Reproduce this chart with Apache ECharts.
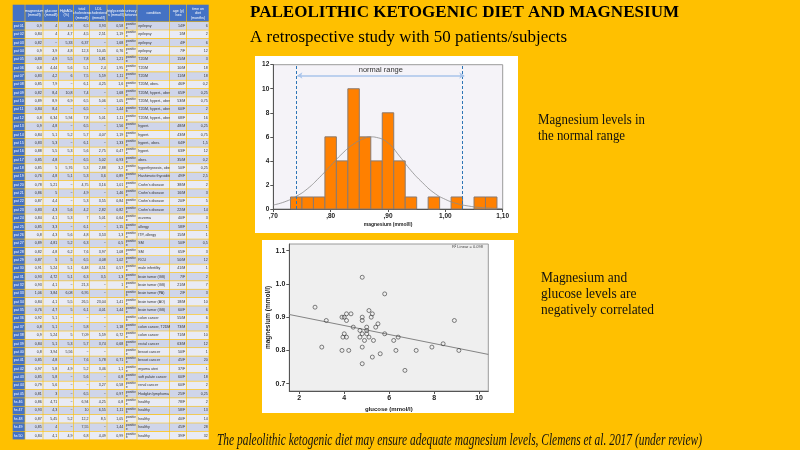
<!DOCTYPE html>
<html><head><meta charset="utf-8">
<script src="https://cdn.jsdelivr.net/npm/echarts@6/dist/echarts.min.js"></script>
<style>html,body{margin:0;padding:0;background:#FFC000;}#c{width:800px;height:450px;}</style>
</head><body><div id="c"></div>
<script>
// ---------- DATA ----------
const binEdges = [0.73,0.75,0.77,0.79,0.81,0.83,0.85,0.87,0.89,0.91,0.93,0.95,0.97,0.99,1.01,1.03,1.05,1.07,1.09];
const binCounts = [1,1,1,6,4,10,6,4,8,4,1,0,1,0,1,0,1,1];
const curveX = [0.70,0.72,0.74,0.76,0.78,0.80,0.82,0.84,0.86,0.87,0.88,0.90,0.92,0.94,0.96,0.98,1.00,1.02,1.04,1.06,1.08,1.10];
const curveY = [0.33,0.6,1.05,1.7,2.6,3.6,4.6,5.4,5.9,6.0,5.95,5.5,4.4,3.2,2.2,1.35,0.8,0.45,0.25,0.13,0.07,0.04];
const normalRange = [0.74, 1.035];

const glucose = [4.8,5.8,2.7,5.1,4.1,4.3,5.25,3.9,4.0,4.8,5.2,3.2,4.1,4.8,8.9,5.5,4.4,5.0,5.4,4.7,5.0,4.8,4.0,5.0,5.8,3.94,4.1,4.7,5.1,6.4,4.9,5.3,6.2,3.0,4.8,7.9,8.4,3.9,4.2,6.3,7.2,9.1,5.6,5.25,4.8,6.7];
const magnesium = [1.02,0.97,0.93,0.92,0.91,0.91,0.91,0.90,0.90,0.90,0.90,0.89,0.89,0.89,0.89,0.88,0.87,0.87,0.87,0.86,0.86,0.85,0.85,0.85,0.85,0.84,0.84,0.84,0.84,0.84,0.83,0.83,0.83,0.81,0.81,0.81,0.82,0.80,0.80,0.80,0.80,0.80,0.79,0.78,0.76,0.74];
const fitX = [1.555, 10.41];
const fitY = [0.908, 0.788];
const scatterXTicks = [2,4,6,8,10];
const scatterYTicks = [0.7,0.8,0.9,1.0,1.1];

const tableHeader = ["","magnesium\n(mmol/l)","glucose\n(mmol/l)","HgbA1c\n(%)","total\ncholesterol\n(mmol/l)","LDL\ncholesterol\n(mmol/l)","triglyceride\ns (mmol/l)","urinary\nketones","condition","age (y)\n/sex","time on\ndiet\n(months)"];
const tableRows = [
["pat 01","0,9","4","4,8","6,5","3,93","0,58","positive","epilepsy","14/F","6"],
["pat 02","0,84","4","4,7","4,5","2,51","1,19","positive","epilepsy","1/M","2"],
["pat 03","0,82","−","5,33","6,37","−","1,68","positive","epilepsy","4/F","6"],
["pat 04","0,9","3,9","4,8","12,3","10,45","0,76","positive","epilepsy","7/F","12"],
["pat 05","0,83","4,9","5,5","7,8","5,81","1,21","positive","T2DM","15/M","3"],
["pat 06","0,8","4,44","5,6","5,1","2,4","1,95","positive","T2DM","10/M","18"],
["pat 07","0,83","4,2","6","7,5","5,59","1,11","positive","T2DM","11/M","18"],
["pat 08","0,85","7,9","−","6,1","4,25","1,6","positive","T2DM, obes.","46/F","0,2"],
["pat 09","0,82","8,4","10,8","7,4","−","1,68","positive","T2DM, hypert., obes.","65/F","0,25"],
["pat 10","0,89","8,9","6,9","6,5","5,06","1,05","positive","T2DM, hypert., obes.","53/M","0,75"],
["pat 11","0,84","8,4","−","6,5","−","1,44","positive","T2DM, hypert., obes.","60/F","2"],
["pat 12","0,8","6,34","5,94","7,8","5,01","1,11","positive","T2DM, hypert., obes.","68/F","16"],
["pat 13","0,9","4,8","−","6,5","−","1,56","positive","hypert.","48/M","0,25"],
["pat 14","0,84","5,1","5,2","5,7","4,07","1,19","positive","hypert.","43/M","0,75"],
["pat 15","0,83","5,3","−","6,1","−","1,33","positive","hypert., obes.","64/F","1,5"],
["pat 16","0,88","5,5","5,3","5,6","2,75","0,47","positive","hypert.","63/F","12"],
["pat 17","0,85","4,8","−","6,5","5,02","0,93","positive","obes.","35/M","0,2"],
["pat 18","0,85","5","5,76","5,3","2,88","3,2","positive","hyperthyreosis, obes.","50/F","0,25"],
["pat 19","0,76","4,8","5,1","5,3","3,6","0,89","positive","Hashimoto thyroiditis","49/F","2,5"],
["pat 20","0,78","5,21","−","4,75","3,16","1,01","positive","Crohn's disease","38/M","2"],
["pat 21","0,86","5","−","4,9","−","1,46","positive","Crohn's disease","16/M","3"],
["pat 22","0,87","4,4","−","5,3","3,55","0,84","positive","Crohn's disease","20/F","5"],
["pat 23","0,83","4,3","5,6","4,2","2,82","0,82","positive","Crohn's disease","22/M","14"],
["pat 24","0,84","4,1","5,3","7","5,01","0,64","positive","eczema","40/F","3"],
["pat 25","0,85","3,3","−","6,1","−","1,15","positive","allergy","58/F","1"],
["pat 26","0,8","4,3","5,6","4,8","3,53","1,3","positive","ITP, allergy","15/M","1"],
["pat 27","0,89","4,81","5,2","6,3","−","0,5","positive","SM","50/F","0,5"],
["pat 28","0,82","4,8","6,2","7,6","3,97","1,08","positive","SM","65/F","3"],
["pat 29","0,87","5","5","6,5","4,08","1,02","positive","RCU","50/M","12"],
["pat 30","0,91","5,24","5,1","6,48","4,51","0,57","positive","male infertility","41/M","1"],
["pat 31","0,93","4,72","5,1","6,3","3,5","1,3","positive","brain tumor (GB)","7/F","2"],
["pat 32","0,93","4,1","−","21,3","−","1","positive","brain tumor (GB)","21/M","7"],
["pat 33","1,06","3,84","6,08","6,95","−","","positive","brain tumor (PA)","2/F","3"],
["pat 34","0,84","4,1","5,5","26,5","23,04","1,41","positive","brain tumor (AO)","18/M","10"],
["pat 35","0,76","4,7","5","6,1","4,01","1,44","positive","brain tumor (GB)","60/F","6"],
["pat 36","0,92","5,1","−","−","−","","positive","colon cancer","55/M","6"],
["pat 37","0,8","5,1","−","5,8","−","1,18","positive","colon cancer, T2DM","73/M","3"],
["pat 38","0,9","5,24","5","7,09","5,59","0,72","positive","colon cancer","71/M","10"],
["pat 39","0,84","5,1","5,3","5,7","3,74","0,68","positive","rectal cancer","63/M","12"],
["pat 40","0,8","3,94","5,56","−","−","","positive","breast cancer","50/F","1"],
["pat 41","0,85","4,8","−","7,6","5,78","0,71","positive","breast cancer","45/F","20"],
["pat 42","0,97","5,8","4,9","5,2","3,46","1,1","positive","myoma uteri","37/F","1"],
["pat 43","0,85","5,8","−","5,6","−","0,8","positive","soft palate cancer","60/F","18"],
["pat 44","0,79","5,6","−","−","3,27","0,58","positive","renal cancer","60/F","2"],
["pat 45","0,81","3","−","6,5","−","0,97","positive","Hodgkin lymphoma","25/F","0,25"],
["hs 46","0,86","4,71","−","6,94","4,25","0,8","positive","healthy","78/F","2"],
["hs 47","0,93","4,3","−","10","6,55","1,11","positive","healthy","58/F","13"],
["hs 48","0,87","5,45","5,2","12,2","8,5","1,05","positive","healthy","40/F","14"],
["hs 49","0,85","4","−","7,55","−","1,44","positive","healthy","45/F","28"],
["hs 50","0,84","4,1","4,9","6,8","4,49","0,99","positive","healthy","39/F","32"]
];

// ---------- LAYOUT ----------
const colEdges = [12.7,25.3,43.3,58.7,74,90,107.3,124.7,137.3,170,186.7,209.3];
const tableTop = 4.7, headerH = 17.3, rowH = 8.36;

const mctx = document.createElement('canvas').getContext('2d');
function fitText(text, font, x, y, targetW, extra){
  const lines = text.split('\n');
  mctx.font = font;
  let w = 0; lines.forEach(l=>{ w = Math.max(w, mctx.measureText(l).width); });
  const s = targetW / w;
  return {type:'text', x:x, y:y, scaleX:s, scaleY:1, originX:0, originY:0,
    style:Object.assign({text:text, font:font, fill:'#111', verticalAlign:'middle'}, extra||{})};
}

const graphics = [];
graphics.push({type:'rect',z:-10,shape:{x:255,y:56,width:263,height:177},style:{fill:'#ffffff'}});
graphics.push({type:'rect',z:-10,shape:{x:262,y:240,width:252,height:173},style:{fill:'#ffffff'}});
for (let c=0;c<11;c++){
  const x0=colEdges[c], w=colEdges[c+1]-colEdges[c];
  graphics.push({type:'rect',shape:{x:x0,y:tableTop,width:w-0.6,height:headerH-0.6},style:{fill:'#4472C4'}});
  if (tableHeader[c]) graphics.push({type:'text',x:x0+w/2,y:tableTop+headerH/2,style:{text:tableHeader[c],fontSize:3.6,lineHeight:4.2,fill:'#ffffff',align:'center',verticalAlign:'middle',fontFamily:'Liberation Sans'}});
}
tableRows.forEach((row,r)=>{
  const y0 = tableTop+headerH+r*rowH;
  for (let c=0;c<11;c++){
    const x0=colEdges[c], w=colEdges[c+1]-colEdges[c];
    const fill = c===0 ? '#4472C4' : (r%2===0 ? '#CFD5EA' : '#E9EBF5');
    graphics.push({type:'rect',shape:{x:x0,y:y0,width:w-0.6,height:rowH-0.6},style:{fill:fill}});
    const t = row[c];
    if (!t) continue;
    let align='right', tx=x0+w-1.5;
    if (c===0 || c===7 || c===8){align='left'; tx=x0+1;}
    const st = {text:t,fontSize:3.6,fill:c===0?'#ffffff':'#333333',align:align,verticalAlign:'middle',fontFamily:'Liberation Sans'};
    if (c===7){ st.width=11; st.overflow='breakAll'; st.lineHeight=3.8; }
    graphics.push({type:'text',x:tx,y:y0+rowH/2-0.3,style:st});
  }
});
graphics.push(fitText('PALEOLITHIC KETOGENIC DIET AND MAGNESIUM','bold 17px "Liberation Serif"',250,13,429,{fill:'#000'}));
graphics.push(fitText('A retrospective study with 50 patients/subjects','17px "Liberation Serif"',250,38,317,{fill:'#000'}));
graphics.push(fitText('Magnesium levels in\nthe normal range','14px "Liberation Serif"',538,128,107,{lineHeight:16}));
graphics.push(fitText('Magnesium and\nglucose levels are\nnegatively correlated','14px "Liberation Serif"',541,294,113,{lineHeight:16}));
graphics.push(fitText('The paleolithic ketogenic diet may ensure adequate magnesium levels, Clemens et al. 2017 (under review)','italic 17px "Liberation Serif"',217,441,485));
graphics.push({type:'text',x:483,y:247,style:{text:'R² Linear = 0.098',fontSize:4,fill:'#444',align:'right',verticalAlign:'middle',fontFamily:'Liberation Sans'}});

const histData = [];
for (let i=0;i<binCounts.length;i++){ if (binCounts[i]>0) histData.push([binEdges[i],binEdges[i+1],binCounts[i]]); }

const axisTxt = {fontFamily:'Liberation Sans',fontWeight:'bold',color:'#222'};
const option = {
  backgroundColor:'#FFC000',
  animation:false,
  graphic:{elements:graphics},
  grid:[
    {left:273.3,top:64.7,width:229.4,height:144.3,show:true,backgroundColor:'#F5F3F8',borderColor:'#9a9a9a',borderWidth:1},
    {left:289.3,top:244,width:199,height:147,show:true,backgroundColor:'#EFEFEF',borderColor:'#9a9a9a',borderWidth:1}
  ],
  xAxis:[
    {type:'value',gridIndex:0,min:0.7,max:1.1,interval:0.1,
     name:'magnesium (mmol/l)',nameLocation:'middle',nameGap:13,nameTextStyle:{fontSize:5,fontWeight:'bold',fontFamily:'Liberation Sans',color:'#222'},
     axisLine:{lineStyle:{color:'#555'}},axisTick:{show:true,length:3,lineStyle:{color:'#555'}},splitLine:{show:false},
     axisLabel:Object.assign({fontSize:6.5,margin:4,formatter:v=>{const s=v.toFixed(2).replace('.',','); return s.startsWith('0')?s.slice(1):s;}},axisTxt)},
    {type:'value',gridIndex:1,min:1.555,max:10.41,
     name:'glucose (mmol/l)',nameLocation:'middle',nameGap:15,nameTextStyle:{fontSize:6,fontWeight:'bold',fontFamily:'Liberation Sans',color:'#222'},
     axisLine:{lineStyle:{color:'#555'}},axisTick:{show:true,length:3,customValues:scatterXTicks,lineStyle:{color:'#555'}},splitLine:{show:false},
     axisLabel:Object.assign({fontSize:7,margin:4,customValues:scatterXTicks},axisTxt)}
  ],
  yAxis:[
    {type:'value',gridIndex:0,min:0,max:12,interval:2,
     axisLine:{show:true,lineStyle:{color:'#555'}},axisTick:{show:true,length:3,lineStyle:{color:'#555'}},splitLine:{show:false},
     axisLabel:Object.assign({fontSize:6.5,margin:4},axisTxt)},
    {type:'value',gridIndex:1,min:0.678,max:1.12,
     name:'magnesium (mmol/l)',nameLocation:'middle',nameGap:17,nameTextStyle:{fontSize:6.5,fontWeight:'bold',fontFamily:'Liberation Sans',color:'#222'},
     axisLine:{show:true,lineStyle:{color:'#555'}},axisTick:{show:true,length:3,customValues:scatterYTicks,lineStyle:{color:'#555'}},splitLine:{show:false},
     axisLabel:Object.assign({fontSize:7,margin:4,customValues:scatterYTicks,formatter:v=>v.toFixed(1)},axisTxt)}
  ],
  series:[
    {type:'custom',xAxisIndex:0,yAxisIndex:0,data:histData,encode:{x:[0,1],y:2},
     renderItem:(params,api)=>{
       const p0=api.coord([api.value(0),api.value(2)]);
       const p1=api.coord([api.value(1),0]);
       return {type:'rect',shape:{x:p0[0],y:p0[1],width:p1[0]-p0[0],height:p1[1]-p0[1]},style:{fill:'#FF8000',stroke:'#8a7a70',lineWidth:1}};
     }},
    {type:'line',xAxisIndex:0,yAxisIndex:0,data:curveX.map((x,i)=>[x,curveY[i]]),smooth:true,symbol:'none',
     lineStyle:{color:'#8a8a8a',width:0.8},z:5,
     markLine:{silent:true,symbol:'none',label:{show:false},
       lineStyle:{color:'#2E75B6',type:[3,2],width:1},
       data:[{xAxis:normalRange[0]},{xAxis:normalRange[1]},
         [{coord:[normalRange[0]+0.002,11.1],symbol:'arrow',symbolSize:5,lineStyle:{color:'#A9C4EB',type:'solid',width:1.5},itemStyle:{color:'#4472C4'}},
          {coord:[normalRange[1]-0.002,11.1],symbol:'arrow',symbolSize:5,
           label:{show:true,position:'insideMiddleTop',formatter:'normal range',fontSize:7.5,color:'#333',fontFamily:'Liberation Sans',distance:2}}]
       ]}},
    {type:'scatter',xAxisIndex:1,yAxisIndex:1,data:glucose.map((g,i)=>[g,magnesium[i]]),symbol:'circle',symbolSize:4,
     itemStyle:{color:'rgba(0,0,0,0)',borderColor:'#3a3a3a',borderWidth:0.8},z:4},
    {type:'line',xAxisIndex:1,yAxisIndex:1,data:fitX.map((x,i)=>[x,fitY[i]]),symbol:'none',lineStyle:{color:'#777',width:0.9},z:3}
  ]
};
const chart = echarts.init(document.getElementById('c'),null,{renderer:'canvas'});
chart.setOption(option);
</script></body></html>
